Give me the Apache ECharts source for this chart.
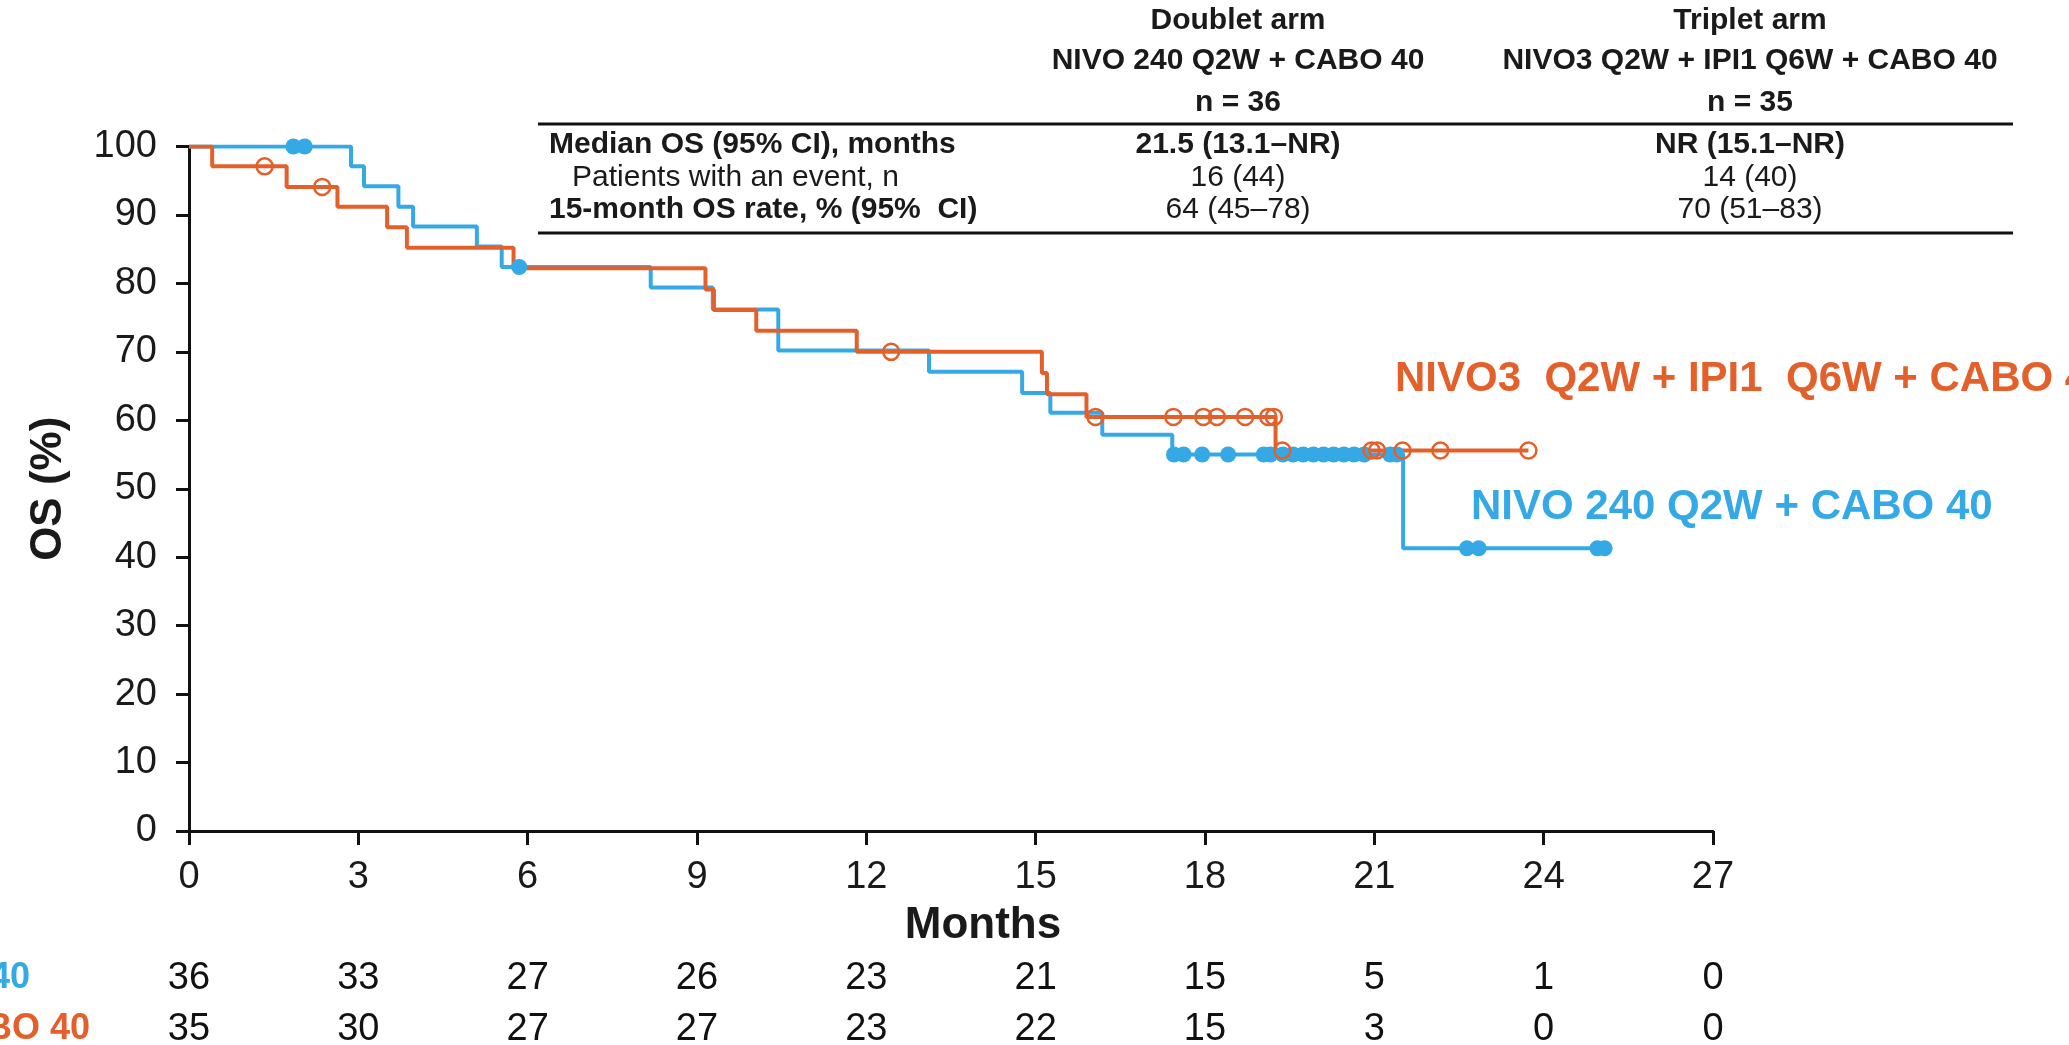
<!DOCTYPE html>
<html>
<head>
<meta charset="utf-8">
<script src="https://cdn.jsdelivr.net/npm/echarts@6/dist/echarts.min.js"></script>
<style>
html,body{margin:0;padding:0;background:#fff;}
#chart{width:2069px;height:1045px;}
</style>
</head>
<body>
<div id="chart"></div>
<script>
// ---------------- DATA ----------------
const xTicks = [0, 3, 6, 9, 12, 15, 18, 21, 24, 27];
const yTicks = [0, 10, 20, 30, 40, 50, 60, 70, 80, 90, 100];

// Doublet arm: NIVO 240 Q2W + CABO 40 (blue)
const blueEventMonths = [0, 2.87, 3.10, 3.71, 3.97, 5.10, 5.54, 8.18, 9.28, 10.44, 13.11, 14.76, 15.26, 16.18, 17.42, 21.51];
const blueSurvival    = [100, 97.1, 94.2, 91.2, 88.3, 85.4, 82.4, 79.4, 76.2, 70.2, 67.1, 64.0, 61.1, 57.9, 55.0, 41.3];
const blueCensorMonths = [1.85, 2.05, 5.85, 17.45, 17.62, 17.95, 18.41, 19.04, 19.16, 19.38, 19.56, 19.74, 19.92, 20.1, 20.28, 20.46, 20.64, 20.82, 21.28, 21.4, 22.64, 22.85, 24.95, 25.08];

// Triplet arm: NIVO3 Q2W + IPI1 Q6W + CABO 40 (orange)
const orangeEventMonths = [0, 0.41, 1.73, 2.63, 3.51, 3.86, 5.75, 9.15, 9.30, 10.05, 11.83, 15.11, 15.20, 15.90, 19.25];
const orangeSurvival    = [100, 97.1, 94.1, 91.2, 88.2, 85.2, 82.2, 79.1, 76.1, 73.1, 70.0, 66.9, 63.8, 60.5, 55.6];
const orangeCensorMonths = [1.34, 2.36, 12.44, 16.06, 17.44, 17.97, 18.21, 18.71, 19.12, 19.22, 19.37, 20.95, 21.05, 21.5, 22.17, 23.73];

// Numbers at risk
const riskBlue   = [36, 33, 27, 26, 23, 21, 15, 5, 1, 0];
const riskOrange = [35, 30, 27, 27, 23, 22, 15, 3, 0, 0];

const blueName = 'NIVO 240 Q2W + CABO 40';
const orangeName = 'NIVO3 Q2W + IPI1 Q6W + CABO 40';
const orangeLabel = 'NIVO3  Q2W + IPI1  Q6W + CABO 40';

// Summary table
const tableCols = [
  { head: 'Doublet arm', arm: 'NIVO 240 Q2W + CABO 40', n: 'n = 36', vals: ['21.5 (13.1–NR)', '16 (44)', '64 (45–78)'] },
  { head: 'Triplet arm', arm: 'NIVO3 Q2W + IPI1 Q6W + CABO 40', n: 'n = 35', vals: ['NR (15.1–NR)', '14 (40)', '70 (51–83)'] }
];
const tableRows = ['Median OS (95% CI), months', 'Patients with an event, n', '15-month OS rate, % (95%  CI)'];

// ---------------- STYLE ----------------
const BLUE = '#35A9E6';
const ORANGE = '#E4602B';
const INK = '#1a1a1a';
const FONT = '"Liberation Sans", Arial, Helvetica, sans-serif';

function survAt(times, surv, t) {
  let s = surv[0];
  for (let i = 0; i < times.length; i++) if (times[i] <= t) s = surv[i];
  return s;
}
function stepData(times, surv, censors) {
  const d = times.map((t, i) => [t, surv[i]]);
  const last = Math.max(...censors);
  if (last > times[times.length - 1]) d.push([last, surv[surv.length - 1]]);
  return d;
}
const blueLine = stepData(blueEventMonths, blueSurvival, blueCensorMonths);
const orangeLine = stepData(orangeEventMonths, orangeSurvival, orangeCensorMonths);
const blueCens = blueCensorMonths.map(t => [t, survAt(blueEventMonths, blueSurvival, t)]);
const orangeCens = orangeCensorMonths.map(t => [t, survAt(orangeEventMonths, orangeSurvival, t)]);

const riskData = [];
riskBlue.forEach((v, i) => riskData.push([xTicks[i], 0, v]));
riskOrange.forEach((v, i) => riskData.push([xTicks[i], 1, v]));

// ---------------- GRAPHICS (text/table) ----------------
const colX = [1238, 1750];
const rowY = [145, 178, 210];
const graphics = [];
function txt(x, y, text, opts) {
  graphics.push({
    type: 'text', x: x, y: y, silent: true,
    style: Object.assign({ text: text, fontFamily: FONT, fontSize: 30, fill: INK, textAlign: 'center', textVerticalAlign: 'middle' }, opts || {})
  });
}
tableCols.forEach((c, i) => {
  txt(colX[i], 21, c.head, { fontWeight: 'bold' });
  txt(colX[i], 61, c.arm, { fontWeight: 'bold' });
  txt(colX[i], 103, c.n, { fontWeight: 'bold' });
  c.vals.forEach((v, r) => txt(colX[i], rowY[r], v, { fontWeight: r === 0 ? 'bold' : 'normal' }));
});
txt(549, rowY[0], tableRows[0], { textAlign: 'left', fontWeight: 'bold' });
txt(572, rowY[1], tableRows[1], { textAlign: 'left' });
txt(549, rowY[2], tableRows[2], { textAlign: 'left', fontWeight: 'bold' });
[124, 233].forEach(y => graphics.push({
  type: 'line', silent: true, shape: { x1: 538, y1: y, x2: 2013, y2: y },
  style: { stroke: '#111', lineWidth: 3 }
}));
// curve labels
txt(1395, 379, orangeLabel, { textAlign: 'left', fontWeight: 'bold', fontSize: 42, fill: ORANGE });
txt(1471, 507, blueName, { textAlign: 'left', fontWeight: 'bold', fontSize: 42, fill: BLUE });
// x axis title
txt(983, 926, 'Months', { fontWeight: 'bold', fontSize: 44 });
// risk table row labels
txt(30, 978, blueName, { textAlign: 'right', fontWeight: 'bold', fontSize: 36, fill: BLUE });
txt(90, 1029, orangeName, { textAlign: 'right', fontWeight: 'bold', fontSize: 36, fill: ORANGE });

// ---------------- CHART ----------------
const chart = echarts.init(document.getElementById('chart'), null, { renderer: 'canvas' });
const axisStyle = { color: '#111', width: 3 };
chart.setOption({
  animation: false,
  backgroundColor: '#fff',
  textStyle: { fontFamily: FONT },
  grid: [
    { left: 189, right: 356, top: 146.5, bottom: 214, containLabel: false, outerBoundsMode: 'none' },
    { left: 189, right: 356, top: 953, height: 102, containLabel: false, outerBoundsMode: 'none' }
  ],
  xAxis: [
    {
      gridIndex: 0, type: 'value', min: 0, max: 27, interval: 3,
      axisLine: { show: true, lineStyle: axisStyle },
      axisTick: { show: true, length: 14, lineStyle: axisStyle },
      axisLabel: { fontSize: 38, color: INK, margin: 28, fontFamily: FONT },
      splitLine: { show: false }
    },
    { gridIndex: 1, type: 'value', min: 0, max: 27, show: false }
  ],
  yAxis: [
    {
      gridIndex: 0, type: 'value', min: 0, max: 100, interval: 10,
      axisLine: { show: true, lineStyle: axisStyle },
      axisTick: { show: true, length: 13, lineStyle: axisStyle },
      axisLabel: { fontSize: 38, color: INK, margin: 32, fontFamily: FONT },
      splitLine: { show: false },
      name: 'OS (%)', nameLocation: 'middle', nameGap: 118, nameRotate: 90,
      nameTextStyle: { fontSize: 44, fontWeight: 'bold', color: INK, fontFamily: FONT }
    },
    { gridIndex: 1, type: 'category', data: [blueName, orangeName], inverse: true, show: false }
  ],
  series: [
    {
      name: blueName, type: 'line', step: 'end', data: blueLine, showSymbol: false,
      lineStyle: { color: BLUE, width: 4 }, z: 2
    },
    {
      name: orangeName, type: 'line', step: 'end', data: orangeLine, showSymbol: false,
      lineStyle: { color: ORANGE, width: 4 }, z: 3
    },
    {
      name: blueName + ' censored', type: 'scatter', data: blueCens, symbol: 'circle', symbolSize: 16,
      itemStyle: { color: BLUE, opacity: 1 }, z: 4
    },
    {
      name: orangeName + ' censored', type: 'scatter', data: orangeCens, symbol: 'circle', symbolSize: 16,
      itemStyle: { color: 'rgba(255,255,255,0)', borderColor: ORANGE, borderWidth: 2.5, opacity: 1 }, z: 5
    },
    {
      name: 'at risk', type: 'scatter', xAxisIndex: 1, yAxisIndex: 1, data: riskData,
      symbolSize: 1, itemStyle: { color: '#ffffff' },
      label: { show: true, position: 'inside', formatter: p => String(p.value[2]), fontSize: 38, color: '#111', textBorderWidth: 0, opacity: 1, fontFamily: FONT }
    }
  ],
  graphic: graphics
});
</script>
</body>
</html>
